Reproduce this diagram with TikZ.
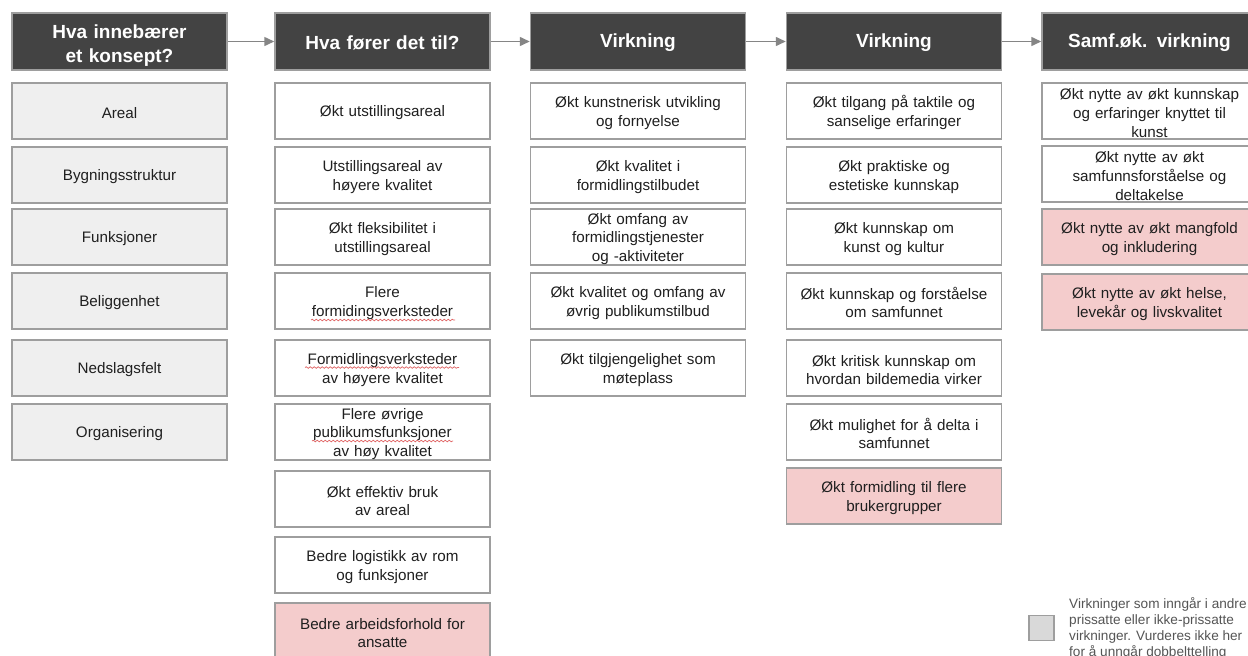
\documentclass[tikz,border=0pt]{standalone}
\usepackage{fontspec}
\setmainfont{Liberation Sans}
\usetikzlibrary{arrows.meta,decorations.pathmorphing}
\definecolor{hdr}{HTML}{434343}
\definecolor{bord}{HTML}{9E9E9E}
\definecolor{lgray}{HTML}{EFEFEF}
\definecolor{pinkfill}{HTML}{F4CCCC}
\definecolor{txt}{HTML}{1F1F1F}
\definecolor{arr}{HTML}{858585}
\definecolor{squig}{HTML}{E06666}
\definecolor{leg}{HTML}{D9D9D9}
\definecolor{legtxt}{HTML}{555555}
\begin{document}
\begin{tikzpicture}[x=1pt,y=-1pt,
 box/.style={draw=bord, line width=1.5pt, minimum width=215pt, minimum height=56pt, inner xsep=0pt, inner ysep=-4pt, text width=207pt, align=center, font=\fontsize{15.2}{18.8}\selectfont, text=txt, execute at begin node={\rule{0pt}{15pt}}},
 hbox/.style={draw=bord, line width=1.5pt, minimum width=215pt, minimum height=57pt, inner xsep=0pt, inner ysep=-4pt, text width=207pt, align=center, fill=hdr, text=white, font=\fontsize{19}{24}\selectfont\bfseries},
 wbox/.style={box, fill=white},
 gbox/.style={box, fill=lgray},
 pbox/.style={box, fill=pinkfill},
 flow/.style={draw=arr, line width=1.5pt, -{Triangle[length=10pt,width=9pt]}},
 squiggle/.style={draw=squig, line width=0.7pt, decorate, decoration={snake, amplitude=0.8pt, segment length=4pt}}]
\useasboundingbox (0,0) rectangle (1248,656);
\fill[white] (0,0) rectangle (1248,656);

% headers
\node[hbox, execute at begin node={\rule{0pt}{21.5pt}}] (h1) at (119.5,41.5) {Hva innebærer\\et konsept?};
\node[hbox, execute at begin node={\rule{0pt}{15.6pt}}] (h2) at (382.5,41.5) {Hva fører det til?};
\node[hbox, execute at begin node={\rule{0pt}{15.6pt}}] (h3) at (638,41.5) {Virkning};
\node[hbox, execute at begin node={\rule{0pt}{15.6pt}}] (h4) at (894,41.5) {Virkning};
\node[hbox, execute at begin node={\rule{0pt}{15.6pt}}] (h5) at (1149.5,41.5) {Samf.øk. virkning};
\draw[flow] (h1.east) -- (h2.west);
\draw[flow] (h2.east) -- (h3.west);
\draw[flow] (h3.east) -- (h4.west);
\draw[flow] (h4.east) -- (h5.west);

% column 1
\node[gbox] (a1) at (119.5,111) {Areal};
\node[gbox] (a2) at (119.5,175) {Bygningsstruktur};
\node[gbox] (a3) at (119.5,237) {Funksjoner};
\node[gbox] (a4) at (119.5,301) {Beliggenhet};
\node[gbox] (a5) at (119.5,368) {Nedslagsfelt};
\node[gbox] (a6) at (119.5,432) {Organisering};

% column 2
\node[wbox] (b1) at (382.5,111) {Økt utstillingsareal};
\node[wbox] (b2) at (382.5,175) {Utstillingsareal av\\høyere kvalitet};
\node[wbox] (b3) at (382.5,237) {Økt fleksibilitet i\\utstillingsareal};
\node[wbox] (b4) at (382.5,301) {Flere\\formidingsverksteder};
\node[wbox] (b5) at (382.5,368) {Formidlingsverksteder\\av høyere kvalitet};
\node[wbox] (b6) at (382.5,432) {Flere øvrige\\publikumsfunksjoner\\av høy kvalitet};
\node[wbox] (b7) at (382.5,499) {Økt effektiv bruk\\av areal};
\node[wbox] (b8) at (382.5,565) {Bedre logistikk av rom\\og funksjoner};
\node[pbox] (b9) at (382.5,631) {Bedre arbeidsforhold for\\ansatte};

% column 3
\node[wbox] (c1) at (638,111) {Økt kunstnerisk utvikling\\og fornyelse};
\node[wbox] (c2) at (638,175) {Økt kvalitet i\\formidlingstilbudet};
\node[wbox] (c3) at (638,237) {Økt omfang av\\formidlingstjenester\\og -aktiviteter};
\node[wbox] (c4) at (638,301) {Økt kvalitet og omfang av\\øvrig publikumstilbud};
\node[wbox] (c5) at (638,368) {Økt tilgjengelighet som\\møteplass};

% column 4
\node[wbox] (d1) at (894,111) {Økt tilgang på taktile og\\sanselige erfaringer};
\node[wbox] (d2) at (894,175) {Økt praktiske og\\estetiske kunnskap};
\node[wbox] (d3) at (894,237) {Økt kunnskap om\\kunst og kultur};
\node[wbox] (d4) at (894,301) {Økt kunnskap og forståelse\\om samfunnet};
\node[wbox] (d5) at (894,368) {Økt kritisk kunnskap om\\hvordan bildemedia virker};
\node[wbox] (d6) at (894,432) {Økt mulighet for å delta i\\samfunnet};
\node[pbox] (d7) at (894,496) {Økt formidling til flere\\brukergrupper};

% column 5
\node[wbox] (e1) at (1149.5,111) {Økt nytte av økt kunnskap\\og erfaringer knyttet til\\kunst};
\node[wbox] (e2) at (1149.5,174) {Økt nytte av økt\\samfunnsforståelse og\\deltakelse};
\node[pbox] (e3) at (1149.5,237) {Økt nytte av økt mangfold\\og inkludering};
\node[pbox] (e4) at (1149.5,302) {Økt nytte av økt helse,\\levekår og livskvalitet};

% spell-check squiggles
\draw[squiggle] (311,320) -- (455,320);
\draw[squiggle] (305,367.5) -- (459,367.5);
\draw[squiggle] (312,441) -- (453,441);

% legend
\node[draw=bord, line width=1.5pt, fill=leg, minimum size=25pt, inner sep=0pt] (lg) at (1041.5,628) {};
\node[anchor=north west, align=left, inner sep=0pt, font=\fontsize{13.6}{15.8}\selectfont, text=legtxt] (lt) at (1069,597.5) {Virkninger som inngår i andre\\prissatte eller ikke-prissatte\\virkninger. Vurderes ikke her\\for å unngår dobbelttelling};
\end{tikzpicture}
\end{document}
